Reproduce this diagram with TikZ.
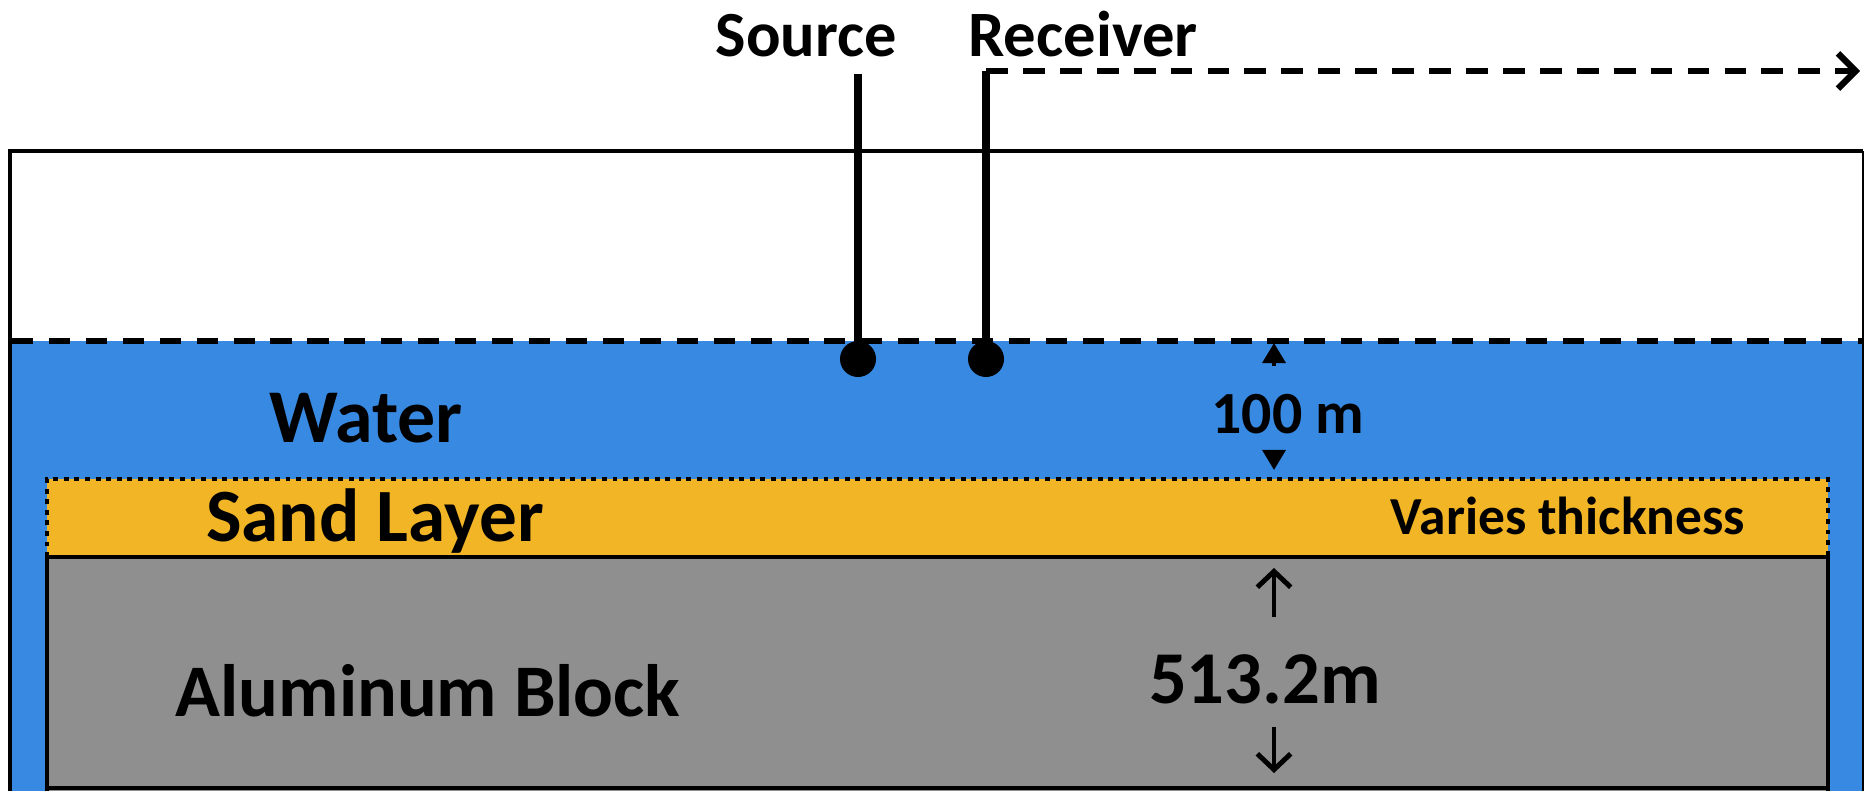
\documentclass[tikz,border=0pt]{standalone}
\usepackage{fontspec}
\setmainfont{Carlito}
\usetikzlibrary{arrows.meta}
\definecolor{waterblue}{RGB}{56,137,226}
\definecolor{sandorange}{RGB}{242,181,38}
\definecolor{blockgray}{RGB}{143,143,143}
\newcommand{\fsz}[1]{\fontsize{#1}{#1}\selectfont\bfseries}

\begin{document}
\begin{tikzpicture}[x=0.01cm,y=-0.01cm,
  lbl/.style={inner sep=0pt,anchor=base},
  dot/.style={circle,fill=black,minimum size=0.36cm,inner sep=0pt},
  wire/.style={line width=2pt}]
  \useasboundingbox (0,0) rectangle (1864,791);
  % model box
  \fill[waterblue] (10,341) rectangle (1863,791);
  \draw[line width=1.4pt] (10,791) -- (10,151) -- (1863,151);
  \draw[line width=0.5pt] (1863,151) -- (1863,791);
  \draw[line width=1.5pt,dash pattern=on 6pt off 4.5pt] (12,341) -- (1863,341);
  % sand and block
  \filldraw[fill=sandorange,line width=1.3pt,dash pattern=on 1.4pt off 1.6pt] (47,557) -- (47,479) -- (1828,479) -- (1828,557);
  \filldraw[fill=blockgray,line width=1.3pt] (47,791) -- (47,557) -- (1828,557) -- (1828,791);
  \draw[line width=1.3pt] (47,788) -- (1828,788);
  % source and receiver
  \node[dot] (src) at (858,359) {};
  \node[dot] (rcv) at (986,359) {};
  \coordinate (srctop) at (858,74);
  \coordinate (rcvtop) at (986,71);
  \coordinate (rcvend) at (1860,71);
  \draw[wire] (srctop) -- (src.center);
  \draw[wire] (rcvtop) -- (rcv.center);
  \draw[line width=1.8pt,dash pattern=on 6.2pt off 4.3pt,-{Straight Barb[length=5pt,width=10pt,line width=1.8pt]}] (rcvtop) -- (rcvend);
  \node[lbl,font=\fsz{18.3pt}] (srclbl) at (806,57) {Source};
  \node[lbl,font=\fsz{18.4pt}] (rcvlbl) at (1083,57) {Receiver};
  % labels
  \node[lbl,font=\fsz{21.6pt}] (water) at (366,442) {Water};
  \node[lbl,font=\fsz{17pt}] (dwater) at (1288,433) {100 m};
  \node[lbl,font=\fsz{21.4pt}] (sand) at (375,541) {Sand Layer};
  \node[lbl,font=\fsz{15.2pt}] (vary) at (1568,534) {Varies thickness};
  \node[lbl,font=\fsz{21.1pt}] (alum) at (428,716) {Aluminum Block};
  \node[lbl,font=\fsz{21.2pt}] (dblock) at (1265,703) {513.2m};
  % thickness arrows
  \coordinate (wa) at (1274,366);
  \coordinate (wb) at (1274,343);
  \coordinate (wc) at (1274,451);
  \coordinate (wd) at (1274,470);
  \draw[line width=1.1pt,-{Triangle[length=5.7pt,width=6.5pt]}] (wa) -- (wb);
  \draw[line width=1.1pt,-{Triangle[length=5.7pt,width=6.5pt]}] (wc) -- (wd);
  \coordinate (ba) at (1274,617);
  \coordinate (bb) at (1274,568);
  \coordinate (bc) at (1274,727);
  \coordinate (bd) at (1274,773);
  \draw[line width=1.4pt,-{Straight Barb[length=4.5pt,width=9.5pt]}] (ba) -- (bb);
  \draw[line width=1.4pt,-{Straight Barb[length=4.5pt,width=9.5pt]}] (bc) -- (bd);
\end{tikzpicture}
\end{document}
